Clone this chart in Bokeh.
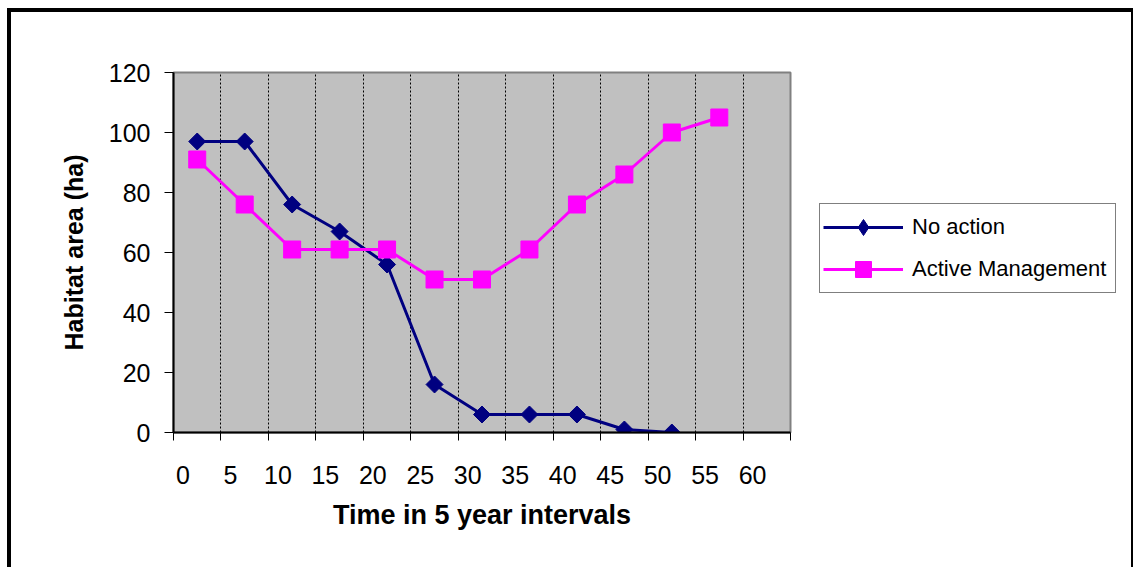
import math
from bokeh.plotting import figure
from bokeh.layouts import row
from bokeh.models import (Range1d, FixedTicker, LinearAxis, Legend, LegendItem,
                          InlineStyleSheet)
from bokeh.embed import file_html
from bokeh.resources import INLINE

# ---- data ----
categories = ["0", "5", "10", "15", "20", "25", "30", "35", "40", "45", "50", "55", "60"]
no_action = [97, 97, 76, 67, 56, 16, 6, 6, 6, 1, 0]
active_management = [91, 76, 61, 61, 61, 51, 51, 61, 76, 86, 100, 105]
y_ticks = [0, 20, 40, 60, 80, 100, 120]
series_names = ["No action", "Active Management"]

FONT = "Liberation Sans"
NAVY = "#000080"
MAGENTA = "#FF00FF"
n_cat = len(categories)
x_no = [i + 0.5 for i in range(len(no_action))]
x_am = [i + 0.5 for i in range(len(active_management))]

p = figure(width=792, height=567, output_backend="svg", toolbar_location=None,
           x_range=Range1d(0, n_cat), y_range=Range1d(0, 120),
           min_border_left=173, min_border_right=2, min_border_top=72, min_border_bottom=135)
p.background_fill_color = "#C0C0C0"
p.border_fill_color = "white"
p.outline_line_color = "#808080"
p.outline_line_width = 2

# x axis: tick marks at category boundaries (no labels)
boundaries = list(range(0, n_cat + 1))
xa = p.xaxis[0]
xa.ticker = FixedTicker(ticks=boundaries)
xa.major_label_overrides = {b: "" for b in boundaries}
xa.major_tick_out = 8
xa.major_tick_in = 0
xa.minor_tick_line_color = None
xa.major_label_text_font_size = "0px"
xa.major_label_standoff = 0
xa.axis_line_color = "black"
xa.axis_line_width = 2
xa.major_tick_line_color = "black"
xa.major_tick_line_width = 1

# second axis carrying the category labels
lab_ticks = [i + 0.2 for i in range(n_cat)]
xl = LinearAxis(ticker=FixedTicker(ticks=lab_ticks),
                major_label_overrides={t: c for t, c in zip(lab_ticks, categories)})
xl.axis_line_color = None
xl.major_tick_line_color = None
xl.minor_tick_line_color = None
xl.major_label_standoff = 19
xl.major_label_text_font = FONT
xl.major_label_text_font_size = "25px"
xl.major_label_text_color = "black"
xl.axis_label = "Time in 5 year intervals"
xl.axis_label_text_font = FONT
xl.axis_label_text_font_size = "27px"
xl.axis_label_text_font_style = "bold"
xl.axis_label_text_color = "black"
xl.axis_label_standoff = 13
p.add_layout(xl, "below")

# y axis
ya = p.yaxis[0]
ya.ticker = FixedTicker(ticks=y_ticks)
ya.major_tick_out = 9
ya.major_tick_in = 0
ya.minor_tick_line_color = None
ya.axis_line_color = "black"
ya.axis_line_width = 2
ya.major_tick_line_color = "black"
ya.major_label_standoff = 14
ya.major_label_text_font = FONT
ya.major_label_text_font_size = "25px"
ya.major_label_text_color = "black"
ya.axis_label = "Habitat area (ha)"
ya.axis_label_text_font = FONT
ya.axis_label_text_font_size = "25px"
ya.axis_label_text_font_style = "bold"
ya.axis_label_text_color = "black"
ya.axis_label_standoff = 18

# grids
p.ygrid.grid_line_color = None
p.xgrid.ticker = FixedTicker(ticks=boundaries[1:-1])
p.xgrid.grid_line_color = "black"
p.xgrid.grid_line_dash = "2 2"
p.xgrid.grid_line_width = 1

# series
p.line(x_no, no_action, line_color=NAVY, line_width=3)
p.scatter(x_no, no_action, marker="square", angle=math.pi / 4, size=12,
          fill_color=NAVY, line_color=NAVY)
p.line(x_am, active_management, line_color=MAGENTA, line_width=3)
p.scatter(x_am, active_management, marker="square", size=17,
          fill_color=MAGENTA, line_color=MAGENTA)

# ---- legend panel (right part of the chart) ----
# the same series are plotted here outside the visible range, only to feed the legend keys
q = figure(width=341, height=567, output_backend="svg", toolbar_location=None,
           x_range=Range1d(-100, -99), y_range=Range1d(-100, -99),
           x_axis_location=None, y_axis_location=None, min_border=0)
q.outline_line_color = None
q.background_fill_color = "white"
q.border_fill_color = "white"
q.xgrid.visible = False
q.ygrid.visible = False
k1l = q.line(x_no, no_action, line_color=NAVY, line_width=3)
k1m = q.scatter(x_no, no_action, marker="diamond", size=17, fill_color=NAVY, line_color=NAVY)
k2l = q.line(x_am, active_management, line_color=MAGENTA, line_width=3)
k2m = q.scatter(x_am, active_management, marker="square", size=17,
                fill_color=MAGENTA, line_color=MAGENTA)

legend = Legend(items=[LegendItem(label=series_names[0], renderers=[k1l, k1m]),
                       LegendItem(label=series_names[1], renderers=[k2l, k2m])],
                location=(27, 139))
legend.border_line_color = "black"
legend.border_line_width = 1
legend.background_fill_color = "white"
legend.background_fill_alpha = 1
legend.label_text_font = FONT
legend.label_text_font_size = "22px"
legend.label_text_color = "black"
legend.glyph_width = 80
legend.glyph_height = 40
legend.label_height = 22
legend.label_width = 200
legend.label_standoff = 9
legend.padding = 3
legend.spacing = 2
legend.margin = 0
q.add_layout(legend, "center")

layout = row(p, q)
# outer frame around the whole chart (drawn with CSS)
layout.stylesheets = [InlineStyleSheet(css="""
:host { position: relative; overflow: hidden; }
:host::after { content: ""; position: absolute; left: 7px; top: 8px; right: -2px; bottom: -30px;
               border: 4px solid black; pointer-events: none; }
""")]

open("out.html", "w").write(file_html(layout, INLINE))
